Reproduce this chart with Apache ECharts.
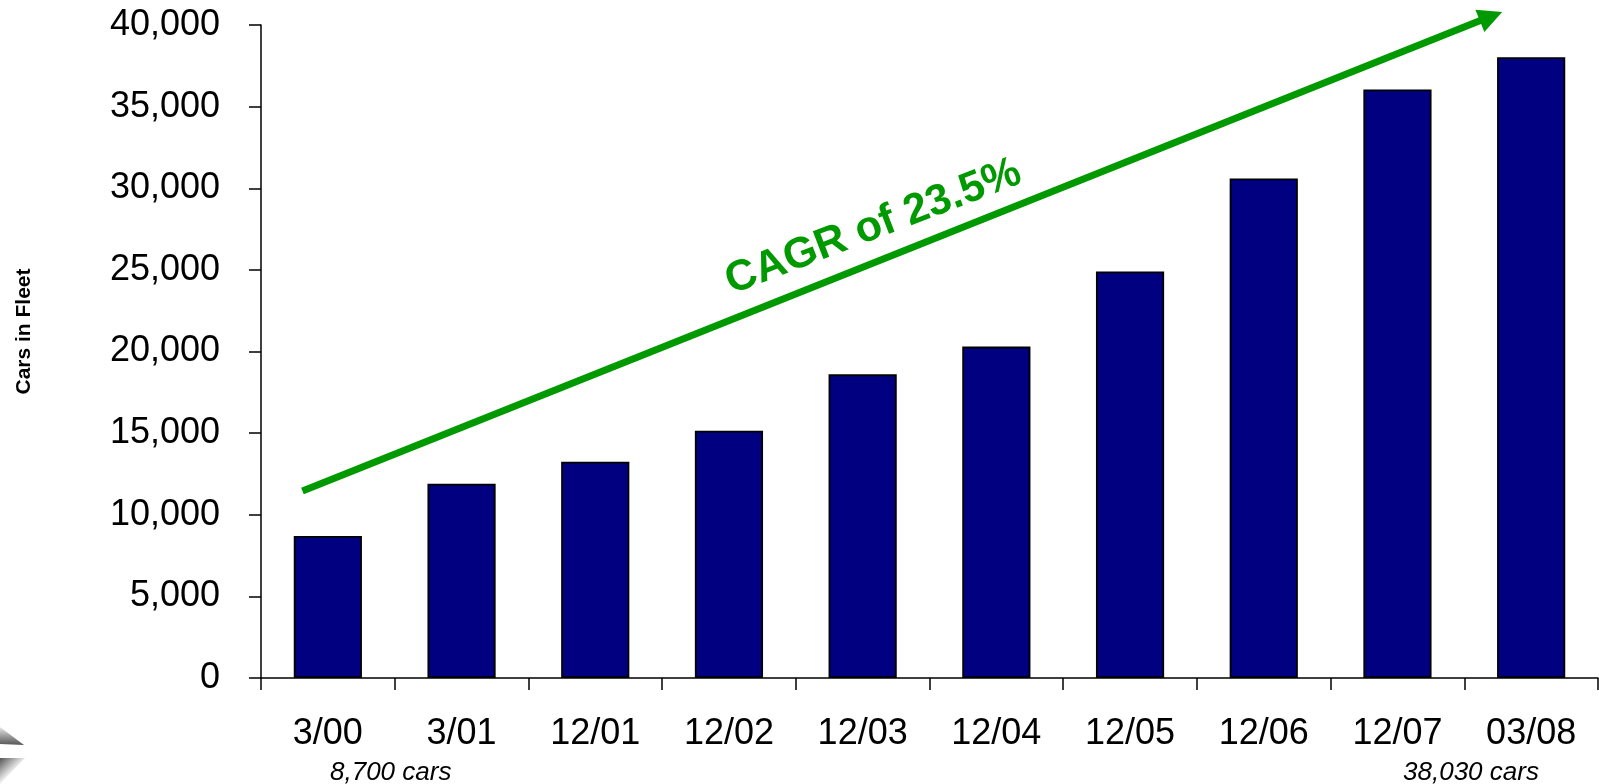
<!DOCTYPE html>
<html>
<head>
<meta charset="utf-8">
<script src="https://cdn.jsdelivr.net/npm/echarts@6/dist/echarts.min.js"></script>
<style>
  html, body { margin: 0; padding: 0; background: #fff; }
  #main { width: 1599px; height: 784px; }
</style>
</head>
<body>
<div id="main"></div>
<script>
// Fleet size at each reporting date
const categories = ['3/00', '3/01', '12/01', '12/02', '12/03', '12/04', '12/05', '12/06', '12/07', '03/08'];
const fleet = [8700, 11900, 13250, 15150, 18600, 20300, 24900, 30600, 36050, 38030];

// Value axis range
const yMin = 0;
const yMax = 40000;
const yStep = 5000;

// Growth arrow, in overlay data space (x = category index, y = cars)
const trendFrom = [-0.19, 11450];
const trendTo = [8.70, 40530];
const cagrLabel = 'CAGR of 23.5%';
const cagrAt = [4.08, 27620];

// Notes under the first and last dates
const noteAt = [[0.47, -5820], [8.55, -5820]];
const noteValues = [fleet[0], fleet[fleet.length - 1]];

const FONT = "'Liberation Sans', Arial, Helvetica, sans-serif";
const GREEN = '#009a00';
const fmt = v => v.toLocaleString('en-US');

const chart = echarts.init(document.getElementById('main'), null, { renderer: 'canvas' });

const gridBox = { left: 261, right: 1, top: 25, bottom: 106 };

chart.setOption({
  animation: false,
  backgroundColor: '#fff',
  grid: [
    Object.assign({}, gridBox),
    Object.assign({}, gridBox)
  ],
  xAxis: [
    {
      type: 'category',
      gridIndex: 0,
      data: categories,
      boundaryGap: true,
      axisLine: { show: true, lineStyle: { color: '#000', width: 1.5 } },
      axisTick: { show: true, length: 12, lineStyle: { color: '#000', width: 1.5 } },
      axisLabel: { color: '#000', fontFamily: FONT, fontSize: 36, margin: 38, interval: 0 },
      splitLine: { show: false }
    },
    {
      type: 'value',
      gridIndex: 1,
      min: -0.5,
      max: categories.length - 0.5,
      show: false
    }
  ],
  yAxis: [
    {
      type: 'value',
      gridIndex: 0,
      min: yMin,
      max: yMax,
      interval: yStep,
      name: 'Cars in Fleet',
      nameLocation: 'middle',
      nameRotate: 90,
      nameGap: 226,
      nameTextStyle: {
        color: '#000', fontFamily: FONT, fontSize: 21, fontWeight: 'bold',
        padding: [0, 0, 0, 40]
      },
      axisLine: { show: true, lineStyle: { color: '#000', width: 1.5 } },
      axisTick: { show: true, length: 12, lineStyle: { color: '#000', width: 1.5 } },
      axisLabel: { color: '#000', fontFamily: FONT, fontSize: 36, margin: 41, formatter: v => fmt(v) },
      splitLine: { show: false }
    },
    {
      type: 'value',
      gridIndex: 1,
      min: yMin,
      max: yMax,
      show: false
    }
  ],
  series: [
    {
      name: 'Cars in Fleet',
      type: 'bar',
      xAxisIndex: 0,
      yAxisIndex: 0,
      data: fleet,
      barWidth: '51%',
      itemStyle: { color: '#000080', borderColor: '#000', borderWidth: 1.8 }
    },
    {
      type: 'lines',
      coordinateSystem: 'cartesian2d',
      xAxisIndex: 1,
      yAxisIndex: 1,
      clip: false,
      z: 5,
      symbol: ['none', 'triangle'],
      symbolSize: 24,
      lineStyle: { color: GREEN, width: 7, opacity: 1, curveness: 0 },
      data: [{ coords: [trendFrom, trendTo] }]
    },
    {
      type: 'scatter',
      xAxisIndex: 1,
      yAxisIndex: 1,
      clip: false,
      symbolSize: 0,
      silent: true,
      z: 6,
      itemStyle: { opacity: 1 },
      label: {
        show: true,
        position: 'inside',
        rotate: 21,
        formatter: () => cagrLabel,
        color: GREEN,
        opacity: 1,
        fontFamily: FONT,
        fontSize: 43,
        fontWeight: 'bold'
      },
      data: [cagrAt]
    },
    {
      type: 'scatter',
      xAxisIndex: 1,
      yAxisIndex: 1,
      clip: false,
      symbolSize: 0,
      silent: true,
      itemStyle: { opacity: 1 },
      label: {
        show: true,
        position: 'inside',
        formatter: p => fmt(noteValues[p.dataIndex]) + ' cars',
        color: '#000',
        opacity: 1,
        fontFamily: FONT,
        fontSize: 26,
        fontStyle: 'italic'
      },
      data: noteAt
    }
  ],
  graphic: [
    {
      type: 'polygon',
      silent: true,
      shape: { points: [[0, 727], [24, 745], [0, 744]] },
      style: {
        fill: new echarts.graphic.LinearGradient(0, 0, 0, 1, [
          { offset: 0, color: '#e8e8e8' },
          { offset: 1, color: '#555' }
        ])
      }
    },
    {
      type: 'polygon',
      silent: true,
      shape: { points: [[0, 758], [25, 758], [0, 784]] },
      style: {
        fill: new echarts.graphic.LinearGradient(0, 0, 1, 1, [
          { offset: 0, color: '#555' },
          { offset: 0.5, color: '#eee' },
          { offset: 1, color: '#888' }
        ])
      }
    }
  ]
});
</script>
</body>
</html>
